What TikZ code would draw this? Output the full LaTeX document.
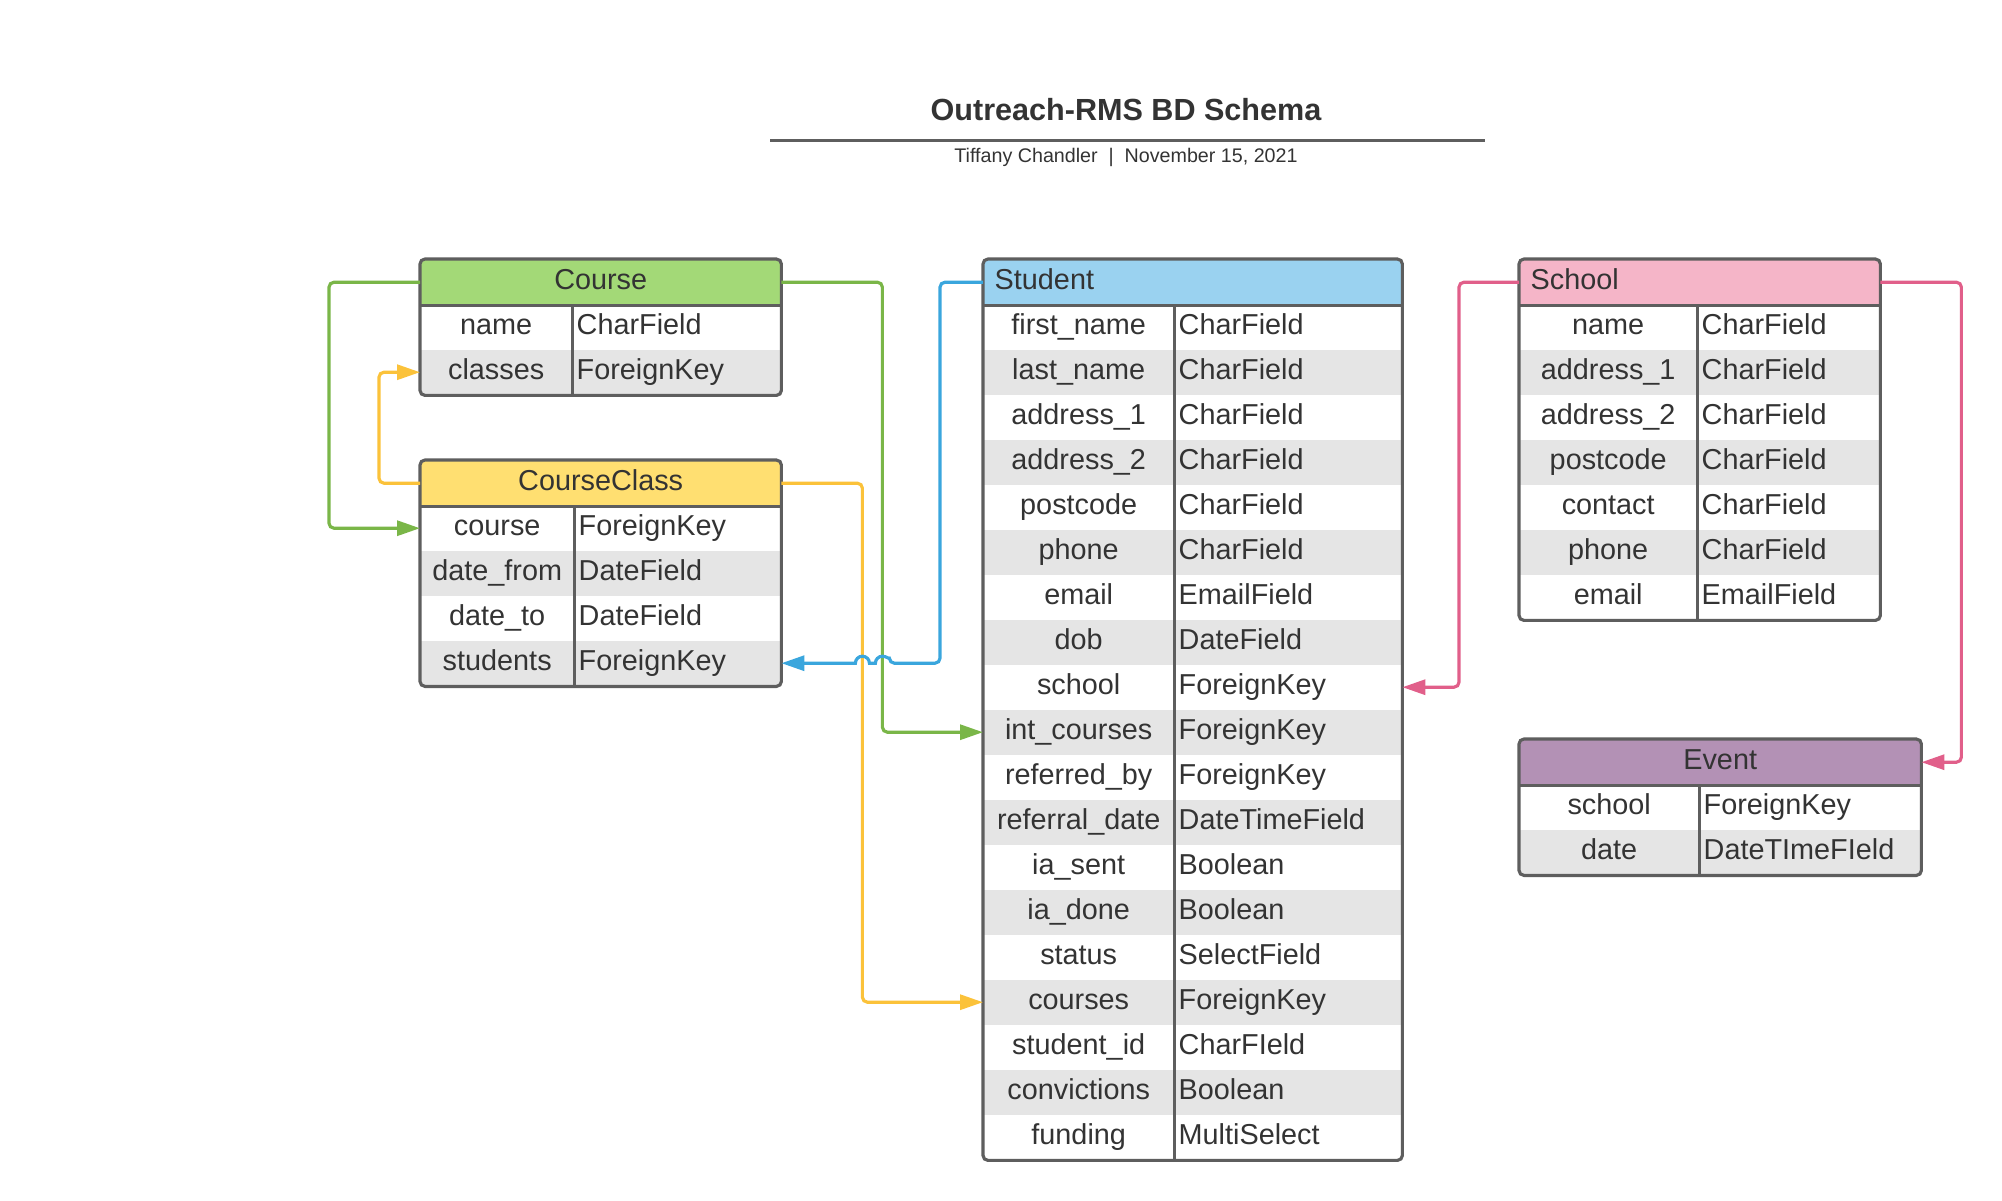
\documentclass[tikz,border=0pt]{standalone}
\usepackage{fontspec}
\setmainfont{Liberation Sans}
\usepackage{xcolor}
\usepackage{tikz}
\usetikzlibrary{arrows.meta, positioning, calc}

\definecolor{coursefill}{HTML}{A3D977}
\definecolor{classfill}{HTML}{FFDF71}
\definecolor{studentfill}{HTML}{9AD2F0}
\definecolor{schoolfill}{HTML}{F5B5C8}
\definecolor{eventfill}{HTML}{B391B5}
\definecolor{greenline}{HTML}{7AB648}
\definecolor{yellowline}{HTML}{FBC23A}
\definecolor{blueline}{HTML}{3AA6DD}
\definecolor{pinkline}{HTML}{E15F8A}
\definecolor{bordergray}{HTML}{5E5E5E}
\definecolor{rowgray}{HTML}{E5E5E5}
\definecolor{textgray}{HTML}{333333}

\newcommand{\tblfont}{\fontsize{8.2}{9.8}\selectfont}

\tikzset{
  tblframe/.style={draw=bordergray, line width=0.9pt, rounded corners=0.05cm},
  tblline/.style={draw=bordergray, line width=0.9pt},
  hdr/.style={rectangle, anchor=north west, minimum height=0.45cm,
              inner xsep=0.11cm, inner ysep=0pt, text height=0.21cm,
              text depth=0.06cm, font=\tblfont, text=textgray},
  keycell/.style={rectangle, anchor=north west, minimum height=0.45cm,
                  inner sep=0pt, text height=0.21cm, text depth=0.06cm,
                  font=\tblfont, text=textgray},
  typecell/.style={keycell, inner xsep=0.05cm, align=left},
  fk/.style={-{Triangle[length=0.23cm, width=0.15cm]}, line width=0.9pt,
             rounded corners=0.05cm},
}

\begin{document}
\begin{tikzpicture}
  \useasboundingbox (0,0) rectangle (20.02,-12.00);

  % title block
  \node[font=\bfseries\fontsize{8.7}{10}\selectfont, text=textgray] (title) at (11.26,-1.10) {Outreach-RMS BD Schema};
  \draw[draw=bordergray, line width=0.6pt] (7.70,-1.405) -- (14.85,-1.405);
  \node[font=\fontsize{5.6}{7}\selectfont, text=textgray] (byline) at (11.26,-1.57) {Tiffany Chandler\ \ |\ \ November 15, 2021};

  % Course
  \node[hdr, fill=coursefill, text width=3.38cm, align=center] (course) at (4.20,-2.59) {Course};
  \foreach \fld/\typ [count=\i] in {name/CharField, classes/ForeignKey} {
    \ifodd\i \def\rowfill{white}\else \def\rowfill{rowgray}\fi
    \node[keycell, fill=\rowfill, minimum width=1.51cm] (course-k\i) at (4.20,{-2.59-0.45*\i}) {\fld};
    \node[typecell, fill=\rowfill, text width=1.99cm] (course-t\i) at (5.71,{-2.59-0.45*\i}) {\typ};
  }
  \draw[tblline] (course.south west) -- (course.south east);
  \draw[tblline] (course-k1.north east) -- (course-k2.south east);
  \draw[tblframe] (course.north west) rectangle (course-t2.south east);

  % CourseClass
  \node[hdr, fill=classfill, text width=3.38cm, align=center] (cclass) at (4.20,-4.60) {CourseClass};
  \foreach \fld/\typ [count=\i] in {course/ForeignKey, date\_from/DateField,
                                    date\_to/DateField, students/ForeignKey} {
    \ifodd\i \def\rowfill{white}\else \def\rowfill{rowgray}\fi
    \node[keycell, fill=\rowfill, minimum width=1.53cm] (cclass-k\i) at (4.20,{-4.60-0.45*\i}) {\fld};
    \node[typecell, fill=\rowfill, text width=1.97cm] (cclass-t\i) at (5.73,{-4.60-0.45*\i}) {\typ};
  }
  \draw[tblline] (cclass.south west) -- (cclass.south east);
  \draw[tblline] (cclass-k1.north east) -- (cclass-k4.south east);
  \draw[tblframe] (cclass.north west) rectangle (cclass-t4.south east);

  % Student
  \node[hdr, fill=studentfill, text width=3.96cm, align=left] (student) at (9.83,-2.59) {Student};
  \foreach \fld/\typ [count=\i] in {first\_name/CharField, last\_name/CharField,
      address\_1/CharField, address\_2/CharField, postcode/CharField,
      phone/CharField, email/EmailField, dob/DateField, school/ForeignKey,
      int\_courses/ForeignKey, referred\_by/ForeignKey,
      referral\_date/DateTimeField, ia\_sent/Boolean, ia\_done/Boolean,
      status/SelectField, courses/ForeignKey, student\_id/CharFIeld,
      convictions/Boolean, funding/MultiSelect} {
    \ifodd\i \def\rowfill{white}\else \def\rowfill{rowgray}\fi
    \node[keycell, fill=\rowfill, minimum width=1.90cm] (student-k\i) at (9.83,{-2.59-0.45*\i}) {\fld};
    \node[typecell, fill=\rowfill, text width=2.18cm] (student-t\i) at (11.73,{-2.59-0.45*\i}) {\typ};
  }
  \draw[tblline] (student.south west) -- (student.south east);
  \draw[tblline] (student-k1.north east) -- (student-k19.south east);
  \draw[tblframe] (student.north west) rectangle (student-t19.south east);

  % School
  \node[hdr, fill=schoolfill, text width=3.38cm, align=left] (school) at (15.19,-2.59) {School};
  \foreach \fld/\typ [count=\i] in {name/CharField, address\_1/CharField,
      address\_2/CharField, postcode/CharField, contact/CharField,
      phone/CharField, email/EmailField} {
    \ifodd\i \def\rowfill{white}\else \def\rowfill{rowgray}\fi
    \node[keycell, fill=\rowfill, minimum width=1.77cm] (school-k\i) at (15.19,{-2.59-0.45*\i}) {\fld};
    \node[typecell, fill=\rowfill, text width=1.73cm] (school-t\i) at (16.96,{-2.59-0.45*\i}) {\typ};
  }
  \draw[tblline] (school.south west) -- (school.south east);
  \draw[tblline] (school-k1.north east) -- (school-k7.south east);
  \draw[tblframe] (school.north west) rectangle (school-t7.south east);

  % Event
  \node[hdr, fill=eventfill, text width=3.79cm, align=center] (event) at (15.19,-7.39) {Event};
  \foreach \fld/\typ [count=\i] in {school/ForeignKey, date/DateTImeFIeld} {
    \ifodd\i \def\rowfill{white}\else \def\rowfill{rowgray}\fi
    \node[keycell, fill=\rowfill, minimum width=1.79cm] (event-k\i) at (15.19,{-7.39-0.45*\i}) {\fld};
    \node[typecell, fill=\rowfill, text width=2.12cm] (event-t\i) at (16.98,{-7.39-0.45*\i}) {\typ};
  }
  \draw[tblline] (event.south west) -- (event.south east);
  \draw[tblline] (event-k1.north east) -- (event-k2.south east);
  \draw[tblframe] (event.north west) rectangle (event-t2.south east);

  % relations
  \draw[fk, draw=greenline] (course.west) -- ++(-0.91,0) |- (cclass-k1.west);
  \draw[fk, draw=greenline] (course.east) -- ++(1.01,0) |- (student-k10.west);
  \draw[fk, draw=yellowline] (cclass.west) -- ++(-0.41,0) |- (course-k2.west);
  \draw[fk, draw=yellowline] (cclass.east) -- ++(0.81,0) |- (student-k16.west);
  \draw[fk, draw=blueline] (student.west) -- ++(-0.43,0) |- ($(cclass-t4.east)+(1.08,0)$)
    [sharp corners] arc[start angle=0, end angle=180, radius=0.07] -- ++(-0.06,0)
    arc[start angle=0, end angle=180, radius=0.07] -- (cclass-t4.east);
  \draw[fk, draw=pinkline] (school.west) -- ++(-0.60,0) |- (student-t9.east);
  \draw[fk, draw=pinkline] (school.east) -- ++(0.81,0) |- (event.east);
\end{tikzpicture}
\end{document}
